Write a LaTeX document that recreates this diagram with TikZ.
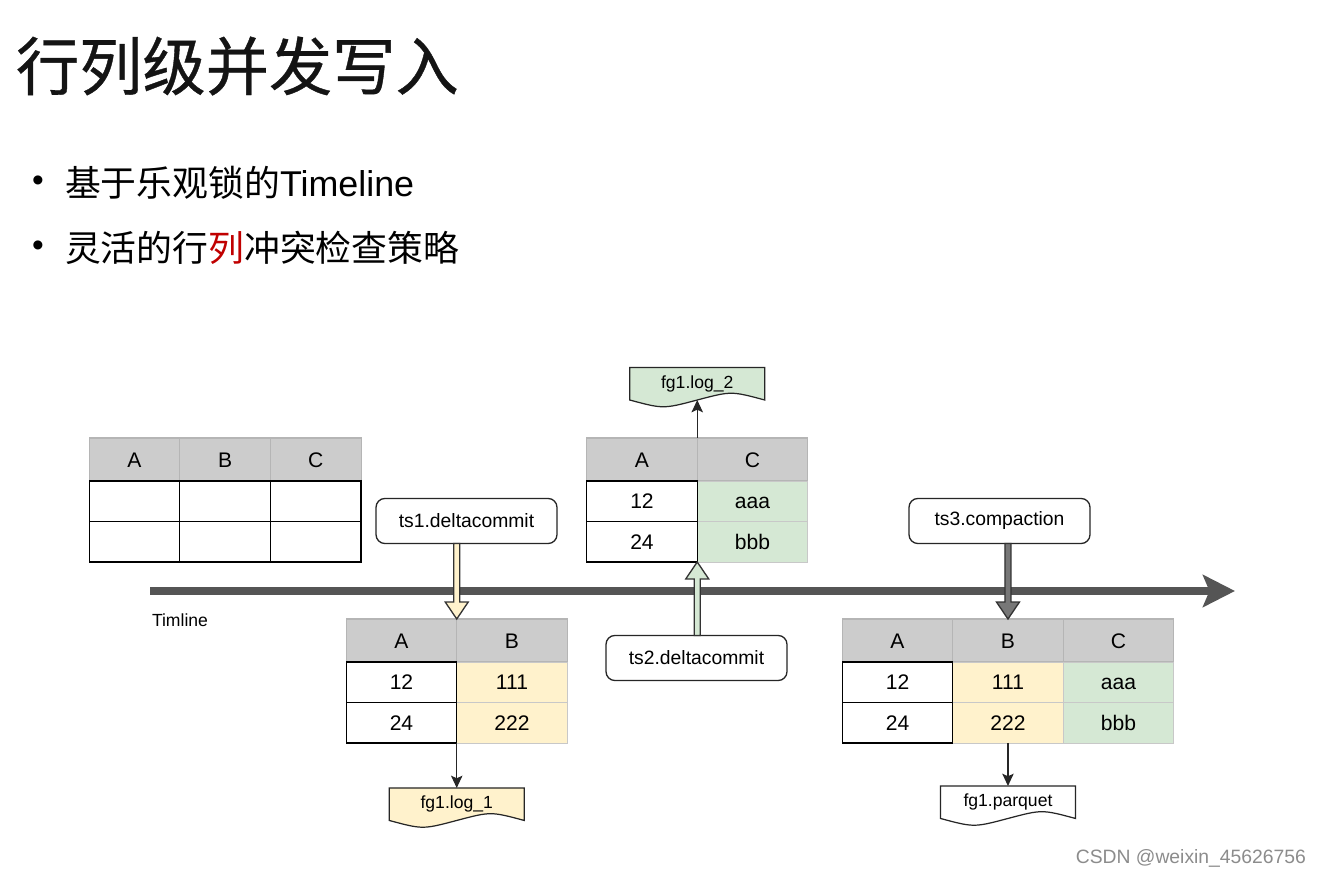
\documentclass[tikz,border=0pt]{standalone}
\usepackage{fontspec}
\setmainfont{Liberation Sans}
\newfontfamily\cjk{Noto Sans CJK SC}
\newfontfamily\cjkheavy[FakeBold=0.6]{Noto Sans CJK SC}
\usepackage{tikz}
\usetikzlibrary{positioning,arrows.meta,calc}
\pgfdeclarelayer{background}
\pgfsetlayers{background,main}

\definecolor{hdrgray}{HTML}{CCCCCC}
\definecolor{hdrline}{HTML}{B5B5B5}
\definecolor{cellline}{HTML}{C8C8C8}
\definecolor{logyellow}{HTML}{FFF2CC}
\definecolor{loggreen}{HTML}{D5E8D4}
\definecolor{axisgray}{HTML}{555555}
\definecolor{compgray}{HTML}{777777}
\definecolor{bulletred}{HTML}{C00000}

% fat hollow arrow: from, to, fill, direction (1 = down, -1 = up)
\newcommand{\fatarrow}[4]{%
  \draw[fatline, fill=#3] ($(#1)+(-3,0)$) -- ($(#2)+(-3,{-17*#4})$)
    -- ($(#2)+(-11.5,{-17*#4})$) -- (#2) -- ($(#2)+(11.5,{-17*#4})$)
    -- ($(#2)+(3,{-17*#4})$) -- ($(#1)+(3,0)$) -- cycle;}

% document outline with wavy bottom behind a node
\newcommand{\docshape}[2]{%
  \begin{pgfonlayer}{background}
    \draw[docline, fill=#2] (#1.north west) -- (#1.north east) -- (#1.south east)
      .. controls ($(#1.south)+(34,-9)$) .. (#1.south)
      .. controls ($(#1.south)+(-34,9)$) .. (#1.south west) -- cycle;
  \end{pgfonlayer}}

\begin{document}
\begin{tikzpicture}[
    x=0.02cm, y=-0.02cm,
    every node/.style={outer sep=0pt},
    tabfont/.style={font=\fontsize{12}{14}\selectfont, text height=8.6pt, text depth=0pt},
    hcell/.style={tabfont, draw=hdrline, fill=hdrgray, minimum height=0.86cm, line width=0.6pt},
    wcell/.style={tabfont, draw=black, fill=white, minimum height=0.81cm, line width=0.75pt},
    ycell/.style={tabfont, draw=cellline, fill=logyellow, minimum height=0.81cm, line width=0.4pt},
    gcell/.style={tabfont, draw=cellline, fill=loggreen, minimum height=0.81cm, line width=0.4pt},
    narrow/.style={minimum width=1.813cm},
    wide/.style={minimum width=2.21cm},
    tsbox/.style={draw=black!85, line width=0.75pt, rounded corners=5pt, fill=white,
      minimum width=3.62cm, minimum height=0.9cm, font=\fontsize{11}{13}\selectfont},
    docnode/.style={minimum width=2.7cm, minimum height=0.65cm, inner sep=0pt,
      font=\fontsize{10}{12}\selectfont},
    docline/.style={draw=black!85, line width=0.7pt},
    fatline/.style={draw=black!80, line width=0.75pt, line join=miter},
    thinarrow/.style={draw=black!85, line width=0.75pt, -{Stealth[length=7pt,width=6.5pt,inset=1.5pt]}},
    axis/.style={draw=axisgray, line width=4pt, -{Stealth[length=0.64cm,width=0.64cm,inset=0.13cm]}}
  ]

  \begin{pgfonlayer}{background}
    \fill[white] (0,0) rectangle (1320,878);
  \end{pgfonlayer}
  \useasboundingbox (0,0) rectangle (1320,878);

  % heading and bullets
  \node[anchor=west, inner sep=0pt, font=\cjkheavy\fontsize{36}{42}\selectfont, text=black!92] (title) at (16,66) {行列级并发写入};
  \node[inner sep=0pt, font=\fontsize{19}{22}\selectfont] (dot1) at (38,184) {•};
  \node[anchor=west, inner sep=0pt, font=\cjk\fontsize{20.4}{24}\selectfont] (item1) at (65,183)
    {基于乐观锁的{\rmfamily Timeline}};
  \node[inner sep=0pt, font=\fontsize{19}{22}\selectfont] (dot2) at (38,249) {•};
  \node[anchor=west, inner sep=0pt, font=\cjk\fontsize{20.4}{24}\selectfont] (item2) at (65,248)
    {灵活的行\textcolor{bulletred}{列}冲突检查策略};

  % timeline
  \coordinate (tl-start) at (150,591);
  \coordinate (tl-end) at (1235,591);
  \draw[axis] (tl-start) -- (tl-end);
  \node[anchor=west, inner sep=0pt, font=\fontsize{10}{12}\selectfont] (tl-label) at (152,620) {Timline};

  % base table
  \node[hcell,narrow] (t1ha) at (134.5,459.5) {A};
  \node[hcell,narrow,right=0pt of t1ha] (t1hb) {B};
  \node[hcell,narrow,right=0pt of t1hb] (t1hc) {C};
  \node[wcell,narrow,below=0pt of t1ha] (t1a1) {};
  \node[wcell,narrow,below=0pt of t1a1] (t1a2) {};
  \node[wcell,narrow,below=0pt of t1hb] (t1b1) {};
  \node[wcell,narrow,below=0pt of t1b1] (t1b2) {};
  \node[wcell,narrow,below=0pt of t1hc] (t1c1) {};
  \node[wcell,narrow,below=0pt of t1c1] (t1c2) {};

  % ts1 table
  \node[hcell,wide] (t2ha) at (401.5,640.5) {A};
  \node[hcell,wide,right=0pt of t2ha] (t2hb) {B};
  \node[ycell,wide,below=0pt of t2hb] (t2b1) {111};
  \node[ycell,wide,below=0pt of t2b1] (t2b2) {222};
  \node[wcell,wide,below=0pt of t2ha] (t2a1) {12};
  \node[wcell,wide,below=0pt of t2a1] (t2a2) {24};

  % ts2 table
  \node[hcell,wide] (t3ha) at (642,459.5) {A};
  \node[hcell,wide,right=0pt of t3ha] (t3hc) {C};
  \node[gcell,wide,below=0pt of t3hc] (t3c1) {aaa};
  \node[gcell,wide,below=0pt of t3c1] (t3c2) {bbb};
  \node[wcell,wide,below=0pt of t3ha] (t3a1) {12};
  \node[wcell,wide,below=0pt of t3a1] (t3a2) {24};

  % compacted table
  \node[hcell,wide] (t4ha) at (897.5,640.5) {A};
  \node[hcell,wide,right=0pt of t4ha] (t4hb) {B};
  \node[hcell,wide,right=0pt of t4hb] (t4hc) {C};
  \node[ycell,wide,below=0pt of t4hb] (t4b1) {111};
  \node[ycell,wide,below=0pt of t4b1] (t4b2) {222};
  \node[gcell,wide,below=0pt of t4hc] (t4c1) {aaa};
  \node[gcell,wide,below=0pt of t4c1] (t4c2) {bbb};
  \node[wcell,wide,below=0pt of t4ha] (t4a1) {12};
  \node[wcell,wide,below=0pt of t4a1] (t4a2) {24};

  % instants
  \node[tsbox] (ts1) at (466.5,521) {ts1.deltacommit};
  \node[tsbox] (ts2) at (696.5,658) {ts2.deltacommit};
  \node[tsbox] (ts3) at (999.5,521) {ts3.compaction};

  \coordinate (ts1-out) at (ts1.south -| t2ha.north east);
  \coordinate (ts2-out) at (ts2.north -| t3a2.south east);
  \coordinate (ts3-out) at (ts3.south -| t4hb.north);
  \fatarrow{ts1-out}{t2ha.north east}{logyellow}{1}
  \fatarrow{ts2-out}{t3a2.south east}{loggreen}{-1}
  \fatarrow{ts3-out}{t4hb.north}{compgray}{1}

  % files
  \node[docnode, below=0.9cm of t2a2.south east] (log1) {fg1.log\_1};
  \node[docnode, above=0.76cm of t3ha.north east] (log2) {fg1.log\_2};
  \node[docnode, below=0.86cm of t4b2.south] (parq) {fg1.parquet};
  \docshape{log1}{logyellow}
  \docshape{log2}{loggreen}
  \docshape{parq}{white}

  \draw[thinarrow] (t2a2.south east) -- (log1.north);
  \draw[thinarrow] (t3ha.north east) -- (log2.south);
  \draw[thinarrow] (t4b2.south) -- (parq.north);

  \node[anchor=east, inner sep=0pt, text=black!45, font=\fontsize{11}{13}\selectfont] (csdn) at (1306,858) {CSDN @weixin\_45626756};

\end{tikzpicture}
\end{document}
